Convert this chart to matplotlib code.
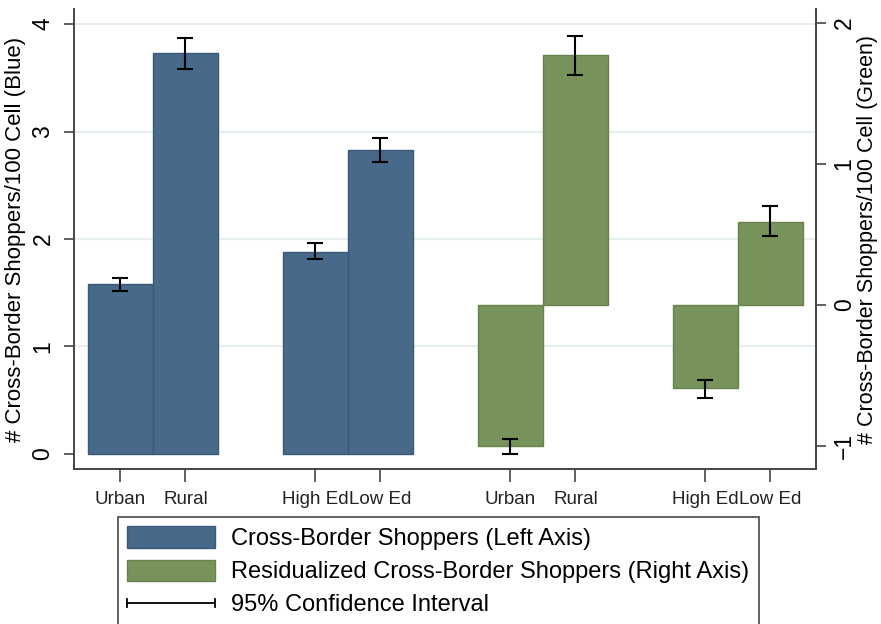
import numpy as np
import matplotlib
matplotlib.use("Agg")
import matplotlib.pyplot as plt
from matplotlib.patches import Patch
from matplotlib.lines import Line2D
from matplotlib.legend_handler import HandlerBase

plt.rcParams['font.family'] = ['Liberation Sans', 'DejaVu Sans']

# Datos
categorias = ["Urban", "Rural", "High Ed", "Low Ed"]
pos_azul = [0, 1, 3, 4]
pos_verde = [6, 7, 9, 10]

azul = [1.58, 3.73, 1.88, 2.825]
azul_lo = [1.52, 3.58, 1.81, 2.72]
azul_hi = [1.64, 3.87, 1.96, 2.94]

verde = [-1.0, 1.77, -0.59, 0.59]
verde_lo = [-1.06, 1.63, -0.66, 0.49]
verde_hi = [-0.95, 1.91, -0.53, 0.70]

c_azul = "#476a8a"
c_verde = "#77925a"


class HandlerIC(HandlerBase):
    # liña horizontal con remates nos extremos
    def create_artists(self, legend, orig, xd, yd, w, h, fs, trans):
        y = h / 2 - yd
        l = Line2D([-xd, -xd + w], [y, y], color="black", lw=1.3, transform=trans)
        c1 = Line2D([-xd, -xd], [y - 3, y + 3], color="black", lw=1.3, transform=trans)
        c2 = Line2D([-xd + w, -xd + w], [y - 3, y + 3], color="black", lw=1.3, transform=trans)
        return [l, c1, c2]


fig = plt.figure(figsize=(8.81, 6.24), dpi=100)
ax = fig.add_axes([74/881, 1 - 469/624, (816 - 74)/881, (469 - 9)/624])
ax2 = ax.twinx()

# Barras azuis (eixo esquerdo)
ax.bar(pos_azul, azul, width=1, color=c_azul, edgecolor="#3a5a78", lw=1, zorder=2)
ax.errorbar(pos_azul, azul,
            yerr=[np.array(azul) - np.array(azul_lo), np.array(azul_hi) - np.array(azul)],
            fmt="none", ecolor="black", elinewidth=1.5, capsize=6, capthick=1.5, zorder=3)

# Barras verdes (eixo dereito)
ax2.bar(pos_verde, verde, width=1, color=c_verde, edgecolor="#67824c", lw=1, zorder=2)
ax2.errorbar(pos_verde, verde,
             yerr=[np.array(verde) - np.array(verde_lo), np.array(verde_hi) - np.array(verde)],
             fmt="none", ecolor="black", elinewidth=1.5, capsize=6, capthick=1.5, zorder=3)

ax.set_xlim(-0.715, 10.7)
ax.set_ylim(-0.14, 4.14)
ax2.set_ylim(-1.165, 2.10)

ax.set_yticks([0, 1, 2, 3, 4])
ax2.set_yticks([-1, 0, 1, 2])
ax.set_xticks(pos_azul + pos_verde)
ax.set_xticklabels(categorias + categorias, fontsize=13.5, color="#222222")

# Grella
for v in [1, 2, 3, 4]:
    ax.axhline(v, color="#e6eef0", lw=1.5, zorder=0)

for a in (ax, ax2):
    a.spines['top'].set_visible(False)
    for s in ['left', 'right', 'bottom']:
        a.spines[s].set_color("#444444")
        a.spines[s].set_linewidth(1.2)
    a.tick_params(axis='y', length=7, width=1.2, color="#444444", labelsize=16.5, pad=7)
    for t in a.get_yticklabels():
        t.set_rotation(90)
        t.set_va("center")
ax.tick_params(axis='x', length=9, width=1.2, color="#444444", pad=7)
ax2.tick_params(axis='y', pad=5)

ax.set_ylabel("# Cross-Border Shoppers/100 Cell (Blue)", fontsize=16, labelpad=4)
ax2.set_ylabel("# Cross-Border Shoppers/100 Cell (Green)", fontsize=15.5, rotation=90, labelpad=1)

# Lenda
h1 = Patch(facecolor=c_azul, edgecolor="#3a5a78")
h2 = Patch(facecolor=c_verde, edgecolor="#67824c")
h3 = Line2D([], [])
leg = fig.legend([h1, h2, h3],
                 ["Cross-Border Shoppers (Left Axis)",
                  "Residualized Cross-Border Shoppers (Right Axis)",
                  "95% Confidence Interval"],
                 handler_map={h3: HandlerIC()},
                 loc="upper left", bbox_to_anchor=(118/881, 1 - 517/624),
                 borderaxespad=0, fontsize=17, handlelength=3.7, handleheight=1.0,
                 labelspacing=0.4, handletextpad=0.7, borderpad=0.4,
                 fancybox=False, edgecolor="#555555", framealpha=1)
leg.get_frame().set_linewidth(1.3)

fig.savefig("out.png", dpi=100)
